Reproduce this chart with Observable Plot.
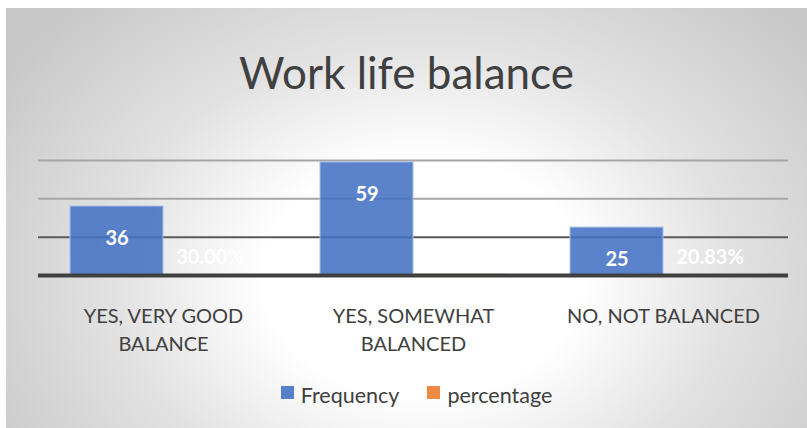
<!DOCTYPE html>
<html>
<head>
<meta charset="utf-8">
<script src="https://cdn.jsdelivr.net/npm/d3@7"></script>
<script src="https://cdn.jsdelivr.net/npm/@observablehq/plot@0.6"></script>
<style>
  html, body { margin: 0; padding: 0; background: #ffffff; }
  #chart {
    position: absolute; left: 6px; top: 8px; width: 801px; height: 420px;
    background: radial-gradient(ellipse 62% 90% at 52% 64%, #ffffff 32%, #e2e2e2 62%, #c8c8c8 100%);
    font-family: Lato, "Open Sans", sans-serif; color: #404040; overflow: hidden;
  }
  #title { position: absolute; left: 0; width: 100%; top: 36px; text-align: center; font-size: 44px; line-height: 56px; color: #404040; }
  #plot { position: absolute; left: 0; top: 122px; }
  #legend { position: absolute; left: 0; width: 100%; top: 374px; display: flex; justify-content: center; gap: 28px; font-size: 21.5px; line-height: 26px; color: #404040; padding-left: 20px; box-sizing: border-box; }
  .item { display: flex; align-items: center; gap: 7px; }
  .sw { width: 13px; height: 13px; display: inline-block; position: relative; top: -3px; }
</style>
</head>
<body>
<div id="chart">
  <div id="title">Work life balance</div>
  <div id="plot"></div>
  <div id="legend"></div>
</div>
<script>
const categories = ["YES, VERY GOOD BALANCE", "YES, SOMEWHAT BALANCED", "NO, NOT BALANCED"];
const categoryLabels = ["YES, VERY GOOD\nBALANCE", "YES, SOMEWHAT\nBALANCED", "NO, NOT BALANCED"];
const seriesNames = ["Frequency", "percentage"];
const frequency = [36, 59, 25];
const percentage = [0.3, 0.4917, 0.2083];
const percentageLabels = ["30.00%", "49.17%", "20.83%"];
const yTicks = [0, 20, 40, 60];
const colors = ["#4472C4", "#ED7D31"];

const rows = [];
categories.forEach((c, i) => {
  rows.push({cat: c, series: seriesNames[0], value: frequency[i], label: String(frequency[i])});
  rows.push({cat: c, series: seriesNames[1], value: percentage[i], label: percentageLabels[i]});
});
const labelOf = new Map(categories.map((c, i) => [c, categoryLabels[i]]));

const plot = Plot.plot({
  width: 801,
  height: 250,
  marginLeft: 32,
  marginRight: 19,
  marginTop: 30,
  marginBottom: 105,
  style: {background: "transparent", fontFamily: "Lato, 'Open Sans', sans-serif", color: "#404040", overflow: "visible"},
  fx: {domain: categories, padding: 0, label: null},
  x: {domain: seriesNames, paddingInner: 0, paddingOuter: 0.33, axis: null},
  y: {domain: [0, 60], axis: null},
  color: {domain: seriesNames, range: colors},
  marks: [
    Plot.ruleY([yTicks[2], yTicks[3]], {stroke: "#a6a6a6", strokeWidth: 2}),
    Plot.ruleY([yTicks[1]], {stroke: "#595959", strokeWidth: 2}),
    Plot.barY(rows, {fx: "cat", x: "series", y: "value", fill: "series", fillOpacity: 0.88, stroke: d => d.series === "Frequency" ? "#a9bfe6" : "#f5b58a", strokeWidth: 1}),
    Plot.ruleY([yTicks[0]], {stroke: "#404040", strokeWidth: 4}),
    Plot.text(rows.filter(d => d.series === "Frequency"), {fx: "cat", x: "series", y: "value", text: "label", dy: 32, fill: "white", fontSize: 20, fontWeight: "bold"}),
    Plot.text(rows.filter(d => d.series === "percentage"), {fx: "cat", x: "series", y: 0, text: "label", dy: -18, fill: "white", fontSize: 20, fontWeight: "bold"}),
    Plot.axisFx({anchor: "bottom", tickSize: 0, tickPadding: 28, fontSize: 20, lineHeight: 1.4, label: null, tickFormat: c => labelOf.get(c), textOverflow: null})
  ]
});
document.getElementById("plot").appendChild(plot);

const legend = document.getElementById("legend");
seriesNames.forEach((s, i) => {
  const item = document.createElement("div");
  item.className = "item";
  const sw = document.createElement("span");
  sw.className = "sw";
  sw.style.background = colors[i];
  sw.style.opacity = 0.9;
  const t = document.createElement("span");
  t.textContent = s;
  item.appendChild(sw); item.appendChild(t);
  legend.appendChild(item);
});
</script>
</body>
</html>
